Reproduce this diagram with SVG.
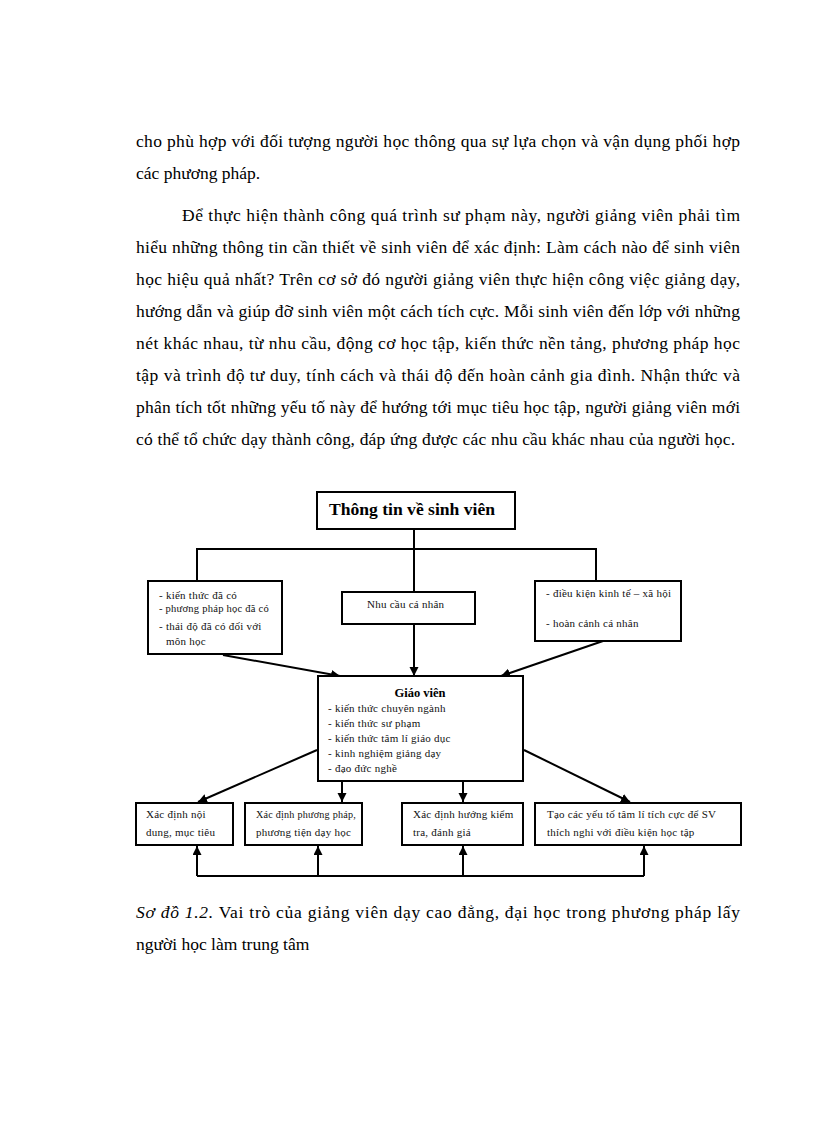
<svg xmlns="http://www.w3.org/2000/svg" width="816" height="1123" viewBox="0 0 816 1123">
<style>
.p{font-family:"Liberation Serif","Times New Roman",serif;font-size:17.5px;fill:#000}
.box{fill:#fff;stroke:#000;stroke-width:2}
.t{font-family:"Liberation Serif","Times New Roman",serif;font-size:11px;letter-spacing:0.25px;fill:#111}
.b{font-family:"Liberation Serif","Times New Roman",serif;font-weight:bold;fill:#000}
.c{fill:none;stroke:#000;stroke-width:2}
</style>
<defs>
<marker id="ah" markerUnits="userSpaceOnUse" markerWidth="10" markerHeight="10" refX="9" refY="4.5" orient="auto">
<path d="M0,0 L9,4.5 L0,9 z" fill="#000"/>
</marker>
</defs>
<rect width="816" height="1123" fill="#fff"/>
<g id="paragraph">
<text class="p" x="136" y="147" textLength="604" lengthAdjust="spacing">cho phù hợp với đối tượng người học thông qua sự lựa chọn và vận dụng phối hợp</text>
<text class="p" x="136" y="179">các phương pháp.</text>
<text class="p" x="182" y="221" textLength="558" lengthAdjust="spacing">Để thực hiện thành công quá trình sư phạm này, người giảng viên phải tìm</text>
<text class="p" x="136" y="253" textLength="604" lengthAdjust="spacing">hiểu những thông tin cần thiết về sinh viên để xác định: Làm cách nào để sinh viên</text>
<text class="p" x="136" y="285" textLength="604" lengthAdjust="spacing">học hiệu quả nhất? Trên cơ sở đó người giảng viên thực hiện công việc giảng dạy,</text>
<text class="p" x="136" y="317" textLength="604" lengthAdjust="spacing">hướng dẫn và giúp đỡ sinh viên một cách tích cực. Mỗi sinh viên đến lớp với những</text>
<text class="p" x="136" y="349" textLength="604" lengthAdjust="spacing">nét khác nhau, từ nhu cầu, động cơ học tập, kiến thức nền tảng, phương pháp học</text>
<text class="p" x="136" y="381" textLength="604" lengthAdjust="spacing">tập và trình độ tư duy, tính cách và thái độ đến hoàn cảnh gia đình. Nhận thức và</text>
<text class="p" x="136" y="413" textLength="604" lengthAdjust="spacing">phân tích tốt những yếu tố này để hướng tới mục tiêu học tập, người giảng viên mới</text>
<text class="p" x="136" y="445" textLength="599" lengthAdjust="spacing">có thể tổ chức dạy thành công, đáp ứng được các nhu cầu khác nhau của người học.</text>
</g>
<g id="connectors">
<line class="c" x1="414" y1="529" x2="414" y2="592"/>
<polyline class="c" points="197,581 197,549 596,549 596,581"/>
<line class="c" x1="414" y1="624" x2="414" y2="676" marker-end="url(#ah)"/>
<line class="c" x1="223" y1="655" x2="340" y2="676" marker-end="url(#ah)"/>
<line class="c" x1="603" y1="641" x2="501" y2="676" marker-end="url(#ah)"/>
<line class="c" x1="317" y1="750" x2="198" y2="802" marker-end="url(#ah)"/>
<line class="c" x1="342" y1="781" x2="342" y2="802" marker-end="url(#ah)"/>
<line class="c" x1="463" y1="781" x2="463" y2="802" marker-end="url(#ah)"/>
<line class="c" x1="524" y1="750" x2="630" y2="802" marker-end="url(#ah)"/>
<polyline class="c" points="197,876 644,876"/>
<line class="c" x1="197" y1="876" x2="197" y2="846" marker-end="url(#ah)"/>
<line class="c" x1="318" y1="876" x2="318" y2="846" marker-end="url(#ah)"/>
<line class="c" x1="463" y1="876" x2="463" y2="846" marker-end="url(#ah)"/>
<line class="c" x1="644" y1="876" x2="644" y2="846" marker-end="url(#ah)"/>
</g>
<g id="node-thongtin">
<rect class="box" x="317" y="492" width="198" height="37"/>
<text class="b" x="329" y="515" font-size="17" textLength="166" lengthAdjust="spacingAndGlyphs">Thông tin về sinh viên</text>
</g>
<g id="node-left">
<rect class="box" x="148" y="581" width="134" height="73"/>
<text class="t" x="159" y="599">- kiến thức đã có</text>
<text class="t" x="159" y="612" textLength="110" lengthAdjust="spacingAndGlyphs">- phương pháp học đã có</text>
<text class="t" x="159" y="630">- thái độ đã có đối với</text>
<text class="t" x="166" y="645">môn học</text>
</g>
<g id="node-nhucau">
<rect class="box" x="342" y="592" width="133" height="32"/>
<text class="t" x="367" y="608">Nhu cầu cá  nhân</text>
</g>
<g id="node-right">
<rect class="box" x="535" y="581" width="146" height="60"/>
<text class="t" x="546" y="597">- điều kiện kinh tế – xã hội</text>
<text class="t" x="546" y="627">- hoàn cảnh cá nhân</text>
</g>
<g id="node-giaovien">
<rect class="box" x="318" y="676" width="205" height="105"/>
<text class="b" x="420" y="697" font-size="12.5" text-anchor="middle">Giáo viên</text>
<text class="t" x="328" y="712">- kiến thức chuyên ngành</text>
<text class="t" x="328" y="727">- kiến thức sư phạm</text>
<text class="t" x="328" y="742">- kiến thức tâm lí giáo dục</text>
<text class="t" x="328" y="757">- kinh nghiệm giảng dạy</text>
<text class="t" x="328" y="772">- đạo đức nghề</text>
</g>
<g id="node-b1">
<rect class="box" x="136" y="803" width="97" height="42"/>
<text class="t" x="146" y="818">Xác định nội</text>
<text class="t" x="146" y="836">dung, mục tiêu</text>
</g>
<g id="node-b2">
<rect class="box" x="245" y="803" width="117" height="42"/>
<text class="t" x="256" y="818" textLength="100" lengthAdjust="spacingAndGlyphs">Xác định phương pháp,</text>
<text class="t" x="256" y="836">phương tiện dạy học</text>
</g>
<g id="node-b3">
<rect class="box" x="402" y="803" width="121" height="42"/>
<text class="t" x="413" y="818">Xác định hướng kiểm</text>
<text class="t" x="413" y="836">tra, đánh giá</text>
</g>
<g id="node-b4">
<rect class="box" x="535" y="803" width="206" height="42"/>
<text class="t" x="547" y="818">Tạo các yếu tố tâm lí tích cực để SV</text>
<text class="t" x="547" y="836">thích nghi với điều kiện học tập</text>
</g>
<g id="caption">
<text class="p" x="136" y="918" textLength="604" lengthAdjust="spacing"><tspan font-style="italic">Sơ đồ 1.2.</tspan>  Vai trò của giảng viên dạy cao đẳng, đại học trong phương pháp lấy</text>
<text class="p" x="136" y="950">người học làm trung tâm</text>
</g>
</svg>
